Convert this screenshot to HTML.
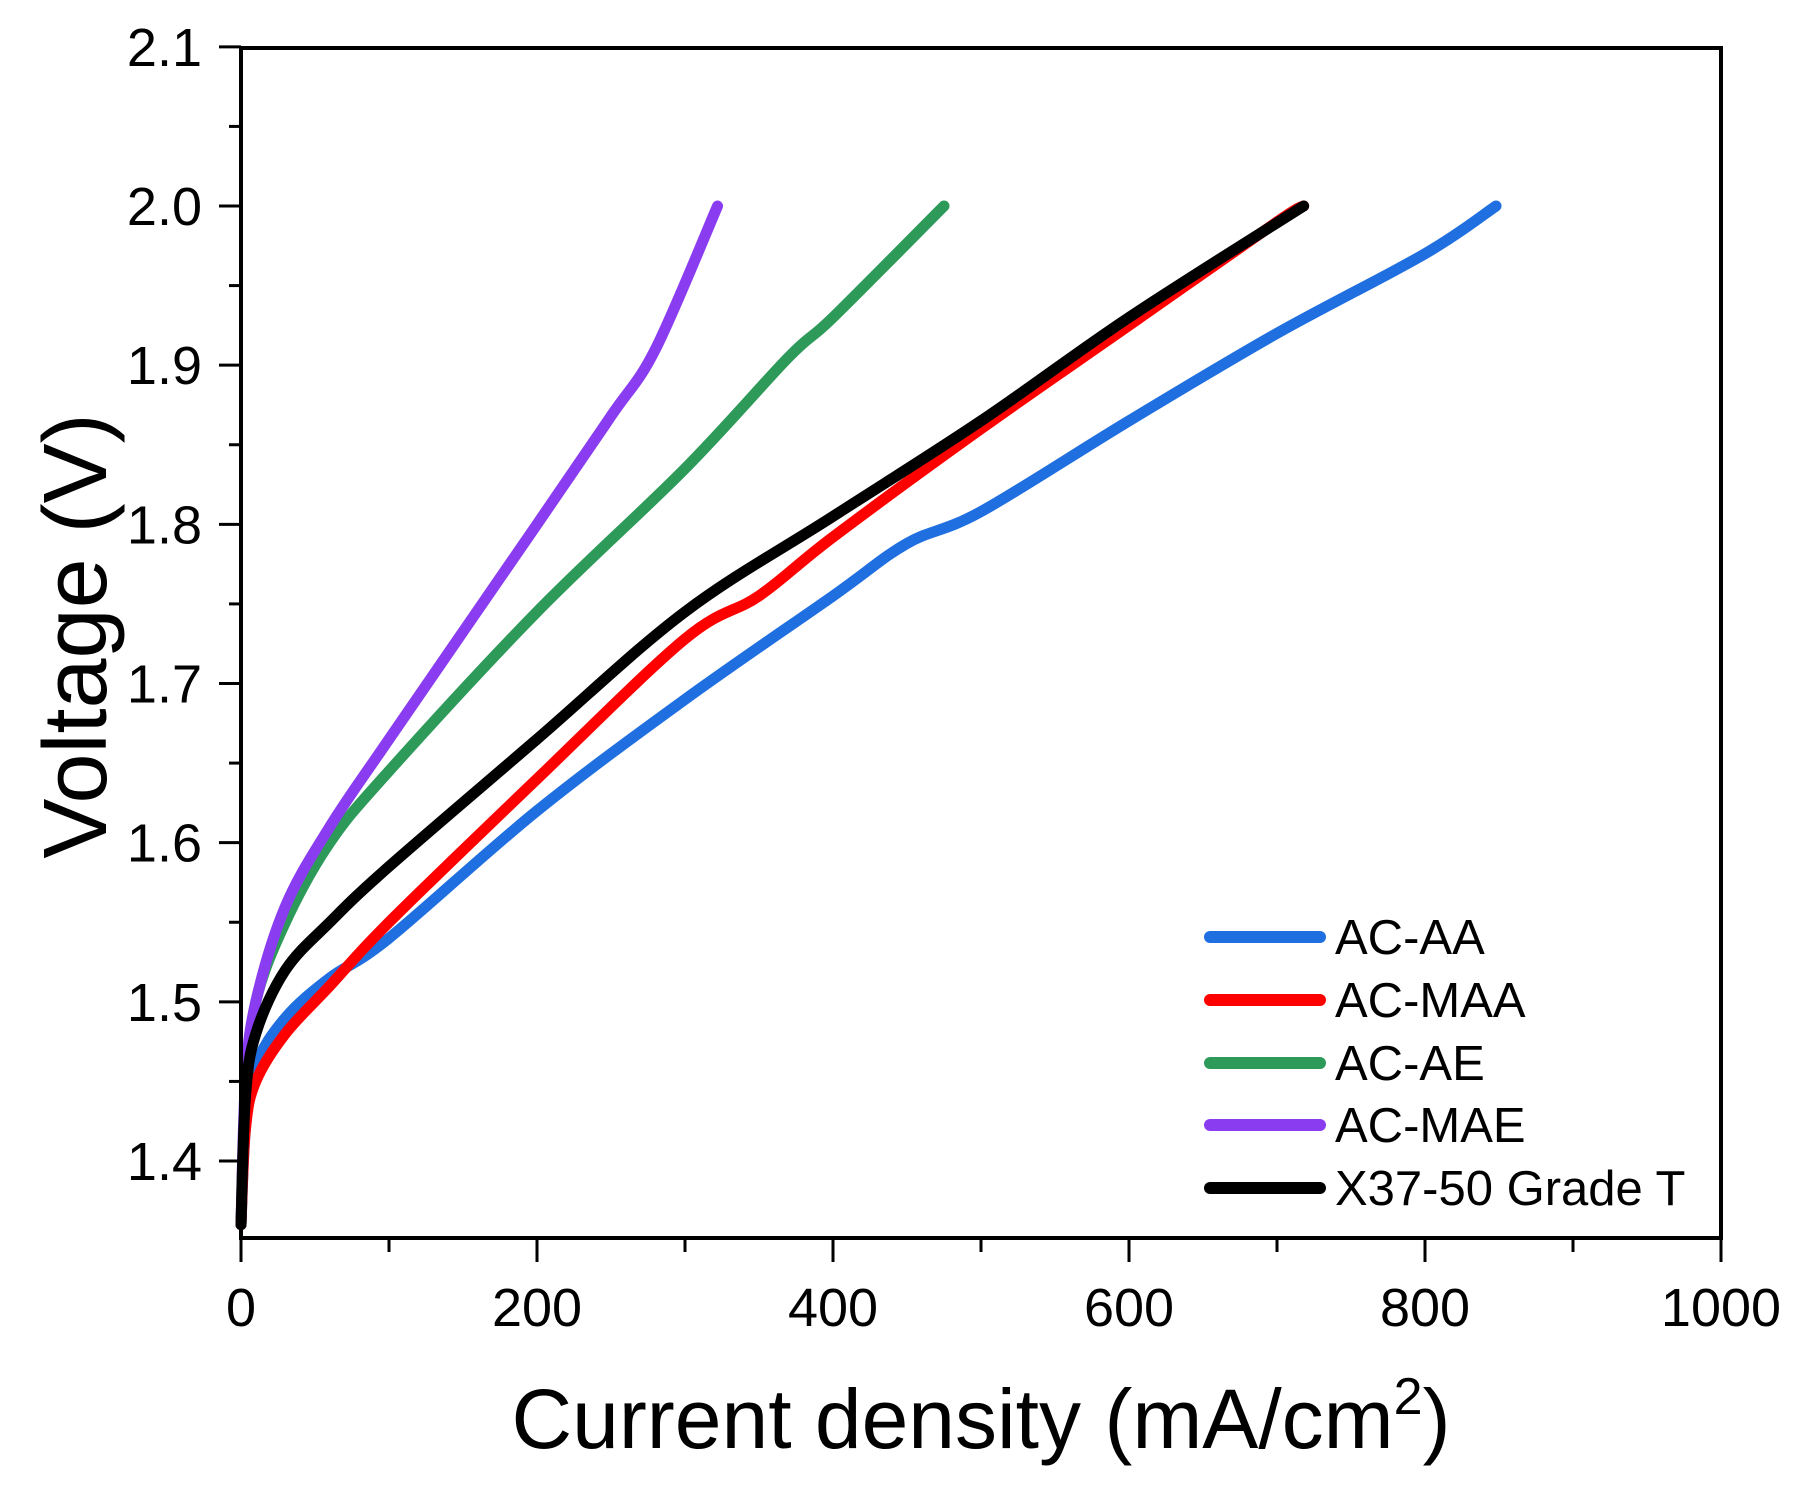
<!DOCTYPE html>
<html><head><meta charset="utf-8"><style>
html,body{margin:0;padding:0;background:#fff}
svg{display:block}
text{font-family:"Liberation Sans",Arial,sans-serif;fill:#000}
</style></head><body>
<svg id="chart" width="1797" height="1495" viewBox="0 0 1797 1495">
<g id="grid-layer"></g>
</svg>
<script>
const xTicks=[0,200,400,600,800,1000];
const yTicks=[1.4,1.5,1.6,1.7,1.8,1.9,2.0,2.1];
const seriesNames=["AC-AA","AC-MAA","AC-AE","AC-MAE","X37-50 Grade T"];
const seriesColors=["#1f6fe0","#ff0000","#2e9a5a","#8a3cf0","#000000"];
const acAA_x=[0,3,10,30,60,100,200,300,400,450,500,600,700,800,848];
const acAA_y=[1.36,1.42,1.46,1.49,1.515,1.54,1.62,1.69,1.755,1.788,1.808,1.865,1.92,1.97,2.0];
const acMAA_x=[0,3,10,30,60,100,200,300,350,400,500,600,700,718];
const acMAA_y=[1.36,1.42,1.45,1.48,1.51,1.55,1.64,1.728,1.755,1.792,1.86,1.925,1.99,2.0];
const acAE_x=[0,3,10,30,60,100,200,300,370,400,475];
const acAE_y=[1.36,1.44,1.5,1.55,1.6,1.645,1.745,1.835,1.905,1.93,2.0];
const acMAE_x=[0,3,10,30,60,100,200,250,280,322];
const acMAE_y=[1.36,1.45,1.5,1.56,1.61,1.665,1.8,1.868,1.91,2.0];
const x37_x=[0,3,10,30,60,100,200,300,400,500,600,718];
const x37_y=[1.36,1.44,1.48,1.52,1.55,1.585,1.665,1.745,1.805,1.865,1.93,2.0];

const L=241,R=1721,T=48,B=1238;
const X=v=>L+(R-L)*v/1000;
const Y=v=>206+(2.0-v)*(1161-206)/0.6;
const NS="http://www.w3.org/2000/svg";
const svg=document.getElementById('chart');
function mk(tag,attrs,parent){const e=document.createElementNS(NS,tag);for(const k in attrs)e.setAttribute(k,attrs[k]);(parent||svg).appendChild(e);return e;}

const allX=[acAA_x,acMAA_x,acAE_x,acMAE_x,x37_x];
const allY=[acAA_y,acMAA_y,acAE_y,acMAE_y,x37_y];
const order=[0,2,3,1,4];
order.forEach(i=>{
  const xs=allX[i],ys=allY[i];
  const p=xs.map((x,j)=>[X(x),Y(ys[j])]);
  let d=`M${p[0][0]},${p[0][1]}`;
  for(let j=0;j<p.length-1;j++){
    const p0=p[j-1]||p[j],p1=p[j],p2=p[j+1],p3=p[j+2]||p2;
    const c1=[p1[0]+(p2[0]-p0[0])/6,p1[1]+(p2[1]-p0[1])/6];
    const c2=[p2[0]-(p3[0]-p1[0])/6,p2[1]-(p3[1]-p1[1])/6];
    d+=` C${c1[0]},${c1[1]} ${c2[0]},${c2[1]} ${p2[0]},${p2[1]}`;
  }
  const path=mk('path',{d:d,fill:'none',stroke:seriesColors[i],'stroke-width':11,'stroke-linejoin':'round','stroke-linecap':'round'});
  
  
});

const frame=mk('rect',{x:L,y:T,width:R-L,height:B-T,fill:'none',stroke:'#000','stroke-width':4});



for(let v=0;v<=1000;v+=100){
  const major=v%200===0;
  const t=mk('line',{x1:X(v),x2:X(v),y1:B,y2:B+(major?24:14),stroke:'#000','stroke-width':3});
  
  
}
xTicks.forEach(v=>{
  const t=mk('text',{x:X(v),y:B+88,'font-size':54,'text-anchor':'middle'});
  t.textContent=String(v);
  
  
});
for(let k=0;k<=14;k++){
  const v=1.4+k*0.05;const major=k%2===0;
  const t=mk('line',{x1:L,x2:L-(major?22:12),y1:Y(v),y2:Y(v),stroke:'#000','stroke-width':3});
  
  
}
yTicks.forEach(v=>{
  const t=mk('text',{x:202,y:Y(v)+19,'font-size':54,'text-anchor':'end'});
  t.textContent=v.toFixed(1);
  
  
});
const xt=mk('text',{x:981,y:1448,'font-size':84,'text-anchor':'middle'});
xt.innerHTML='Current density (mA/cm<tspan dy="-34" font-size="52">2</tspan><tspan dy="34">)</tspan>';


const yt=mk('text',{x:0,y:0,'font-size':90,'text-anchor':'middle',transform:`translate(106,${(T+B)/2-7}) rotate(-90)`});
yt.textContent='Voltage (V)';



const legY=[937,1000,1063,1125,1188];
seriesNames.forEach((n,i)=>{
  const g=mk('g',{});
  
  
  mk('line',{x1:1210,x2:1320,y1:legY[i],y2:legY[i],stroke:seriesColors[i],'stroke-width':12,'stroke-linecap':'round'},g);
  const t=mk('text',{x:1335,y:legY[i]+17,'font-size':49},g);
  t.textContent=n;
});
</script>
</body></html>
